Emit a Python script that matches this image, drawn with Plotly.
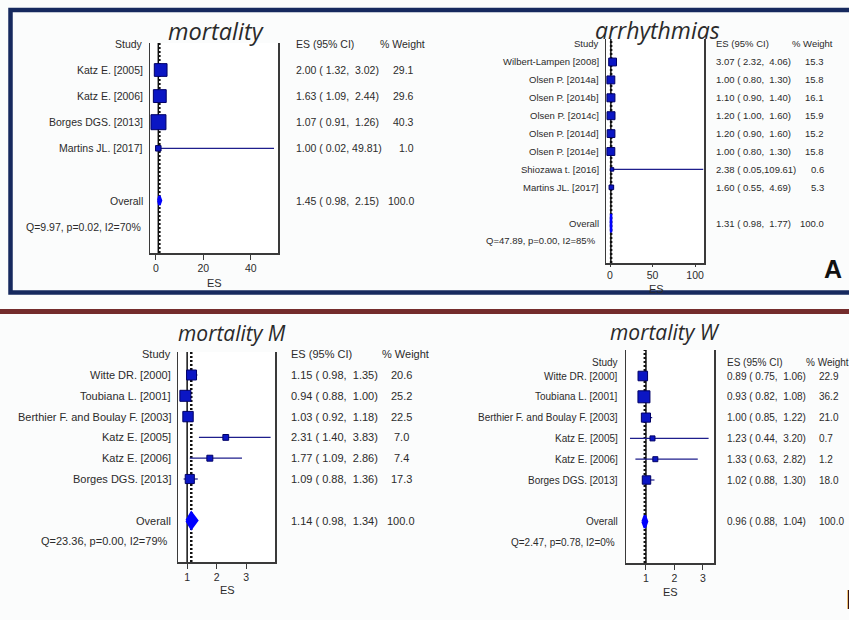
import plotly.graph_objects as go

# ---------------- data ----------------
mort_studies = ["Katz E. [2005]", "Katz E. [2006]", "Borges DGS. [2013]", "Martins JL. [2017]"]
mort_es = [2.00, 1.63, 1.07, 1.00]
mort_lo = [1.32, 1.09, 0.91, 0.02]
mort_hi = [3.02, 2.44, 1.26, 49.81]
mort_w = [29.1, 29.6, 40.3, 1.0]
mort_overall = [1.45, 0.98, 2.15]
mort_het = "Q=9.97, p=0.02, I2=70%"
mort_ticks = [0, 20, 40]

arr_studies = ["Wilbert-Lampen [2008]", "Olsen P. [2014a]", "Olsen P. [2014b]", "Olsen P. [2014c]",
               "Olsen P. [2014d]", "Olsen P. [2014e]", "Shiozawa t. [2016]", "Martins JL. [2017]"]
arr_es = [3.07, 1.00, 1.10, 1.20, 1.20, 1.00, 2.38, 1.60]
arr_lo = [2.32, 0.80, 0.90, 1.00, 0.90, 0.80, 0.05, 0.55]
arr_hi = [4.06, 1.30, 1.40, 1.60, 1.60, 1.30, 109.61, 4.69]
arr_w = [15.3, 15.8, 16.1, 15.9, 15.2, 15.8, 0.6, 5.3]
arr_overall = [1.31, 0.98, 1.77]
arr_het = "Q=47.89, p=0.00, I2=85%"
arr_ticks = [0, 50, 100]

sex_studies = ["Witte DR. [2000]", "Toubiana L. [2001]", "Berthier F. and Boulay F. [2003]",
               "Katz E. [2005]", "Katz E. [2006]", "Borges DGS. [2013]"]

m_es = [1.15, 0.94, 1.03, 2.31, 1.77, 1.09]
m_lo = [0.98, 0.88, 0.92, 1.40, 1.09, 0.88]
m_hi = [1.35, 1.00, 1.18, 3.83, 2.86, 1.36]
m_w = [20.6, 25.2, 22.5, 7.0, 7.4, 17.3]
m_overall = [1.14, 0.98, 1.34]
m_het = "Q=23.36, p=0.00, I2=79%"

w_es = [0.89, 0.93, 1.00, 1.23, 1.33, 1.02]
w_lo = [0.75, 0.82, 0.85, 0.44, 0.63, 0.88]
w_hi = [1.06, 1.08, 1.22, 3.20, 2.82, 1.30]
w_w = [22.9, 36.2, 21.0, 0.7, 1.2, 18.0]
w_overall = [0.96, 0.88, 1.04]
w_het = "Q=2.47, p=0.78, I2=0%"
sex_ticks = [1, 2, 3]

# ---------------- layout helpers ----------------
WPX, HPX = 849, 620
def px(x):
    return x / WPX
def py(y):
    return 1 - y / HPX

FONT = "Liberation Sans, Arial, sans-serif"
TXT = "#2b2b2b"

panels = [
    dict(title="mortality", studies=mort_studies, es=mort_es, lo=mort_lo, hi=mort_hi, w=mort_w,
         ov=mort_overall, het=mort_het, ticks=mort_ticks,
         box=(150, 278, 43, 253), xr=[-2.5, 51.5], row0=70, step=26.1, ov_row=5, het_row=6,
         header_px=44, fs=10.5, lab_x=145, het_x=143, es_x=294, wt_x=416, wt_anchor="right",
         wh_x=427, wh_anchor="right", maxbox=15, minbox=5.5, dh=0.17, ticklen=5,
         title_xy=(216, 31), title_fs=23.5, es_lab=(214, 283)),
    dict(title="arrhythmias", studies=arr_studies, es=arr_es, lo=arr_lo, hi=arr_hi, w=arr_w,
         ov=arr_overall, het=arr_het, ticks=arr_ticks,
         box=(606, 704, 39, 263), xr=[-4.7, 110.5], row0=62, step=17.9, ov_row=9, het_row=10,
         header_px=44, fs=9.5, lab_x=601, het_x=598, es_x=714, wt_x=826, wt_anchor="right",
         wh_x=835, wh_anchor="right", maxbox=8, minbox=3.5, dh=0.52, ticklen=2,
         title_xy=(657, 30), title_fs=23, es_lab=(656, 289)),
    dict(title="mortality M", studies=sex_studies, es=m_es, lo=m_lo, hi=m_hi, w=m_w,
         ov=m_overall, het=m_het, ticks=sex_ticks,
         box=(178, 275, 352, 562), xr=[0.69, 3.98], row0=375, step=20.8, ov_row=7, het_row=8,
         header_px=354, fs=11, lab_x=173, het_x=170, es_x=289, wt_x=401, wt_anchor="center",
         wh_x=405, wh_anchor="center", maxbox=11, minbox=5, dh=0.38, ticklen=5,
         title_xy=(232, 333), title_fs=21, es_lab=(227, 590)),
    dict(title="mortality W", studies=sex_studies, es=w_es, lo=w_lo, hi=w_hi, w=w_w,
         ov=w_overall, het=w_het, ticks=sex_ticks,
         box=(626, 714, 350, 563), xr=[0.30, 3.39], row0=376, step=20.8, ov_row=7, het_row=8,
         header_px=362, fs=10, lab_x=620, het_x=617, es_x=725, wt_x=817, wt_anchor="left",
         wh_x=804, wh_anchor="left", maxbox=12, minbox=5, dh=0.3, ticklen=5,
         title_xy=(665, 332), title_fs=21, es_lab=(670, 592)),
]

fig = go.Figure()
annotations = []
shapes = []
layout_axes = {}

for i, p in enumerate(panels):
    k = "" if i == 0 else str(i + 1)
    xa, ya = "x" + k, "y" + k
    left, right, top, bottom = p["box"]
    n = len(p["studies"])
    rows = list(range(n))
    step = p["step"]
    y_top = (top - p["row0"]) / step
    y_bot = (bottom - p["row0"]) / step

    layout_axes["xaxis" + k] = dict(
        domain=[px(left), px(right)], range=p["xr"], anchor=ya,
        tickvals=p["ticks"], ticks="outside", ticklen=p["ticklen"], tickwidth=1,
        tickcolor="#3a3a3a",
        showline=True, linecolor="#3a3a3a", linewidth=1.5, showgrid=False, zeroline=False,
        tickfont=dict(family=FONT, size=10.5, color=TXT), fixedrange=True)
    layout_axes["yaxis" + k] = dict(
        domain=[py(bottom), py(top)], range=[y_bot, y_top], anchor=xa,
        showline=True, mirror=True, linecolor="#3a3a3a", linewidth=1.5,
        showticklabels=False, ticks="", showgrid=False, zeroline=False, fixedrange=True)

    wmax = max(p["w"])
    sizes = [max(p["maxbox"] * (wi / wmax) ** 0.5, p["minbox"]) for wi in p["w"]]
    fig.add_trace(go.Scatter(
        x=p["es"], y=rows, mode="markers", xaxis=xa, yaxis=ya, showlegend=False,
        marker=dict(symbol="square", size=sizes, color="#0b16c4", opacity=1,
                    line=dict(color="#000066", width=1)),
        error_x=dict(type="data", symmetric=False,
                     array=[h - e for e, h in zip(p["es"], p["hi"])],
                     arrayminus=[e - l for e, l in zip(p["es"], p["lo"])],
                     color="#1e1e8c", thickness=1.2, width=0),
        cliponaxis=False, hoverinfo="skip"))

    oe, ol, oh = p["ov"]
    r = p["ov_row"]
    h = p["dh"]
    fig.add_trace(go.Scatter(
        x=[ol, oe, oh, oe, ol], y=[r, r - h, r, r + h, r], mode="lines", fill="toself",
        fillcolor="#0000ff", line=dict(color="#0000ff", width=2.5), xaxis=xa, yaxis=ya,
        showlegend=False, hoverinfo="skip"))

    # null line and overall dotted line (beneath the marks)
    shapes.append(dict(type="line", xref=xa, yref=ya + " domain", x0=1, x1=1, y0=0, y1=1,
                       layer="below", line=dict(color="#111111", width=1.5)))
    shapes.append(dict(type="line", xref=xa, yref=ya + " domain", x0=oe, x1=oe, y0=0, y1=1,
                       layer="below", line=dict(color="#111111", width=2.5, dash="2px,2px")))

    def txt(text, x, y, anchor, size=None, yref=ya):
        annotations.append(dict(text=text, x=px(x), xref="paper", y=y, yref=yref,
                                xanchor=anchor, yanchor="middle", showarrow=False,
                                font=dict(family=FONT, size=size or p["fs"], color=TXT)))

    hdr = (p["header_px"] - p["row0"]) / step
    txt("Study", p["lab_x"], hdr, "right")
    txt("ES (95% CI)", p["es_x"], hdr, "left")
    txt("% Weight", p["wh_x"], hdr, p["wh_anchor"])
    for j, s in enumerate(p["studies"]):
        txt(s, p["lab_x"], j, "right")
        txt(f"{p['es'][j]:.2f} ({p['lo'][j]:5.2f},{p['hi'][j]:6.2f})".replace(" ", "\u00a0"),
            p["es_x"], j, "left")
        txt(f"{p['w'][j]:.1f}", p["wt_x"], j, p["wt_anchor"])
    txt("Overall", p["lab_x"], r, "right")
    txt(f"{oe:.2f} ({ol:5.2f},{oh:6.2f})".replace(" ", "\u00a0"), p["es_x"], r, "left")
    txt(f"{sum(p['w']):.1f}", p["wt_x"], r, p["wt_anchor"])
    txt(p["het"], p["het_x"], p["het_row"], "right")

    # axis label and title
    annotations.append(dict(text="ES", x=px(p["es_lab"][0]), y=py(p["es_lab"][1]), xref="paper",
                            yref="paper", xanchor="center", yanchor="middle", showarrow=False,
                            font=dict(family=FONT, size=11, color=TXT)))
    annotations.append(dict(text=p["title"], x=px(p["title_xy"][0]), y=py(p["title_xy"][1]),
                            xref="paper", yref="paper", xanchor="center", yanchor="middle",
                            showarrow=False,
                            font=dict(family="Open Sans, sans-serif", size=p["title_fs"],
                                      color="#2a2a2a", style="italic")))

# panel letters
annotations.append(dict(text="<b>A</b>", x=px(833), y=py(269), xref="paper", yref="paper",
                        xanchor="center", yanchor="middle", showarrow=False,
                        font=dict(family=FONT, size=25, color="#111111")))
annotations.append(dict(text="<b>B</b>", x=px(844), y=py(600), xref="paper", yref="paper",
                        xanchor="left", yanchor="middle", showarrow=False,
                        font=dict(family=FONT, size=27, color="#111111")))

# frame around top panel and separator line
shapes.append(dict(type="rect", xref="paper", yref="paper", x0=px(10.5), x1=px(880),
                   y0=py(292.5), y1=py(10), line=dict(color="#16295e", width=4.5),
                   fillcolor="rgba(0,0,0,0)", layer="below"))
shapes.append(dict(type="line", xref="paper", yref="paper", x0=0, x1=1,
                   y0=py(311.5), y1=py(311.5), line=dict(color="#742c2c", width=5)))

fig.update_layout(
    width=WPX, height=HPX, margin=dict(l=0, r=0, t=0, b=0),
    paper_bgcolor="#fbfcfc", plot_bgcolor="#ffffff", hovermode=False,
    showlegend=False, annotations=annotations, shapes=shapes, **layout_axes)

fig.write_html("out.html", config={"displayModeBar": False, "staticPlot": True},
               post_script="document.body.style.margin='0';document.body.style.overflow='hidden';")
